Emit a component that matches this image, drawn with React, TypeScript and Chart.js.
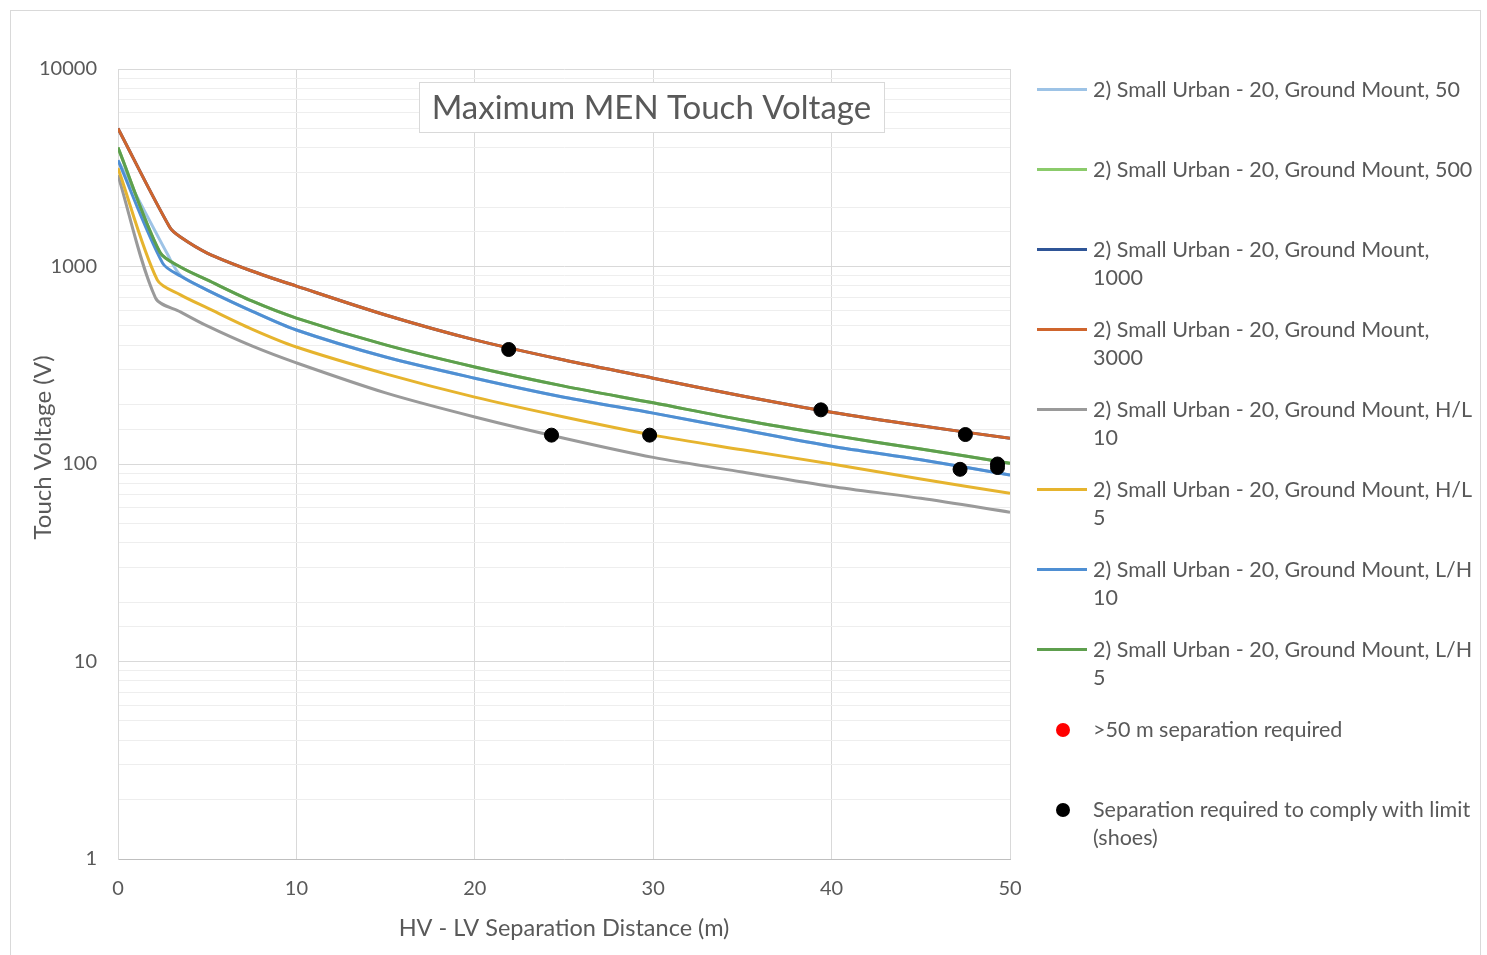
import React, { useEffect, useRef } from "react";
import { Chart, registerables } from "chart.js";

Chart.register(...registerables);

// ---- data ----
const seriesLabels = [
  "2) Small Urban - 20, Ground Mount, 50",
  "2) Small Urban - 20, Ground Mount, 500",
  "2) Small Urban - 20, Ground Mount,\n1000",
  "2) Small Urban - 20, Ground Mount,\n3000",
  "2) Small Urban - 20, Ground Mount, H/L\n10",
  "2) Small Urban - 20, Ground Mount, H/L\n5",
  "2) Small Urban - 20, Ground Mount, L/H\n10",
  "2) Small Urban - 20, Ground Mount, L/H\n5",
];
const seriesColors = [
  "#9DC3E6",
  "#8BCB6B",
  "#2F5597",
  "#CF652D",
  "#9A9A9A",
  "#E6B42E",
  "#4F8FD3",
  "#5E9F4E",
];

const xs50 = [0, 2.8, 3.5, 5, 7.5, 10, 15, 20, 25, 30, 35, 40, 45, 50];
const v50 = [3450, 1143, 905, 760, 595, 477, 348, 272, 218, 181, 149, 123, 105, 88];
const xs500 = [0, 2.35, 3.5, 5, 7.5, 10, 15, 20, 25, 30, 35, 40, 45, 50];
const v500 = [4000, 1180, 994, 855, 669, 548, 401, 310, 248, 204, 167, 140, 119, 101];
const xs1000 = [0, 2.9, 3.5, 5, 7.5, 10, 15, 20, 25, 30, 35, 40, 45, 50];
const v1000 = [5000, 1580, 1410, 1170, 949, 796, 568, 425, 336, 272, 221, 183, 156, 135];
const xs3000 = [0, 2.9, 3.5, 5, 7.5, 10, 15, 20, 25, 30, 35, 40, 45, 50];
const v3000 = [5000, 1580, 1410, 1170, 949, 796, 568, 425, 336, 272, 221, 183, 156, 135];
const xsHL10 = [0, 2.1, 3.5, 5, 7.5, 10, 15, 20, 25, 30, 35, 40, 45, 50];
const vHL10 = [2900, 693, 589, 500, 396, 325, 229, 173, 135, 108, 91, 77, 67, 57];
const xsHL5 = [0, 2.2, 3.5, 5, 7.5, 10, 15, 20, 25, 30, 35, 40, 45, 50];
const vHL5 = [3150, 855, 718, 617, 482, 391, 286, 218, 173, 140, 118, 100, 84, 71];
const xsLH10 = [0, 2.5, 3.5, 5, 7.5, 10, 15, 20, 25, 30, 35, 40, 45, 50];
const vLH10 = [3450, 1040, 895, 760, 595, 477, 348, 272, 218, 181, 149, 123, 105, 88];
const xsLH5 = [0, 2.35, 3.5, 5, 7.5, 10, 15, 20, 25, 30, 35, 40, 45, 50];
const vLH5 = [4000, 1180, 994, 855, 669, 548, 401, 310, 248, 204, 167, 140, 119, 101];

const seriesX = [xs50, xs500, xs1000, xs3000, xsHL10, xsHL5, xsLH10, xsLH5];
const seriesY = [v50, v500, v1000, v3000, vHL10, vHL5, vLH10, vLH5];

const redLabel = ">50 m separation required";
const redX: number[] = [];
const redY: number[] = [];
const blackLabel = "Separation required to comply with limit\n(shoes)";
const blackX = [21.9, 24.3, 29.8, 39.4, 47.5, 47.2, 49.3, 49.3];
const blackY = [380, 140, 140, 188, 141, 94, 100, 96];

const xTicks = [0, 10, 20, 30, 40, 50];
const yTickLabels = ["1", "10", "100", "1000", "10000"];

const chartTitle = "Maximum MEN Touch Voltage";
const xTitle = "HV - LV Separation Distance (m)";
const yTitle = "Touch Voltage (V)";

const FONT = "Lato, 'Open Sans', 'DejaVu Sans', sans-serif";
const TEXT = "#595959";

const zip = (xs: number[], ys: number[]) => xs.map((x, i) => ({ x, y: ys[i] }));

const isPow10 = (v: number) => {
  const l = Math.log10(v);
  return Math.abs(l - Math.round(l)) < 1e-9;
};

const titlePlugin = {
  id: "boxTitle",
  beforeDatasetsDraw(chart: any) {
    const { ctx, chartArea } = chart;
    const w = chartArea.right - chartArea.left;
    const h = chartArea.bottom - chartArea.top;
    const cx = chartArea.left + w * 0.598;
    const cy = chartArea.top + 38;
    ctx.save();
    ctx.font = `33px ${FONT}`;
    const tw = ctx.measureText(chartTitle).width;
    const bw = Math.max(tw + 22, 465);
    const bh = 50;
    ctx.fillStyle = "#ffffff";
    ctx.fillRect(cx - bw / 2, cy - bh / 2, bw, bh);
    ctx.strokeStyle = "#d9d9d9";
    ctx.lineWidth = 1;
    ctx.strokeRect(Math.round(cx - bw / 2) + 0.5, Math.round(cy - bh / 2) + 0.5, Math.round(bw), bh);
    ctx.fillStyle = TEXT;
    ctx.textAlign = "center";
    ctx.textBaseline = "middle";
    ctx.fillText(chartTitle, cx, cy + 1);

    // y axis title (rotated)
    ctx.font = `24px ${FONT}`;
    ctx.translate(chartArea.left - 75, chartArea.top + h * 0.479);
    ctx.rotate(-Math.PI / 2);
    ctx.fillText(yTitle, 0, 0);
    ctx.restore();
  },
};

export default function App() {
  const ref = useRef<HTMLCanvasElement | null>(null);

  useEffect(() => {
    if (!ref.current) return;
    const n = seriesLabels.length;
    const lineSets = seriesLabels.map((lab, i) => ({
      type: "line" as const,
      label: lab.replace("\n", " "),
      data: zip(seriesX[i], seriesY[i]),
      borderColor: seriesColors[i],
      backgroundColor: seriesColors[i],
      borderWidth: 3,
      pointRadius: 0,
      tension: 0.3,
      fill: false,
      order: n - i + 2,
    }));
    const chart = new Chart(ref.current, {
      type: "line",
      data: {
        datasets: [
          ...lineSets,
          {
            type: "scatter" as const,
            label: redLabel,
            data: zip(redX, redY),
            backgroundColor: "#FF0000",
            borderColor: "#FF0000",
            pointRadius: 7,
            showLine: false,
            order: 1,
          } as any,
          {
            type: "scatter" as const,
            label: blackLabel.replace("\n", " "),
            data: zip(blackX, blackY),
            backgroundColor: "#000000",
            borderColor: "#000000",
            pointRadius: 7,
            showLine: false,
            order: 0,
          } as any,
        ],
      },
      options: {
        animation: false,
        responsive: false,
        maintainAspectRatio: false,
        layout: { padding: { left: 31, right: 477, top: 69, bottom: 0 } },
        plugins: {
          legend: { display: false },
          tooltip: { enabled: false },
          title: { display: false },
        },
        scales: {
          x: {
            type: "linear",
            min: 0,
            max: 50,
            afterBuildTicks: (s: any) => {
              s.ticks = xTicks.map((v) => ({ value: v }));
            },
            ticks: {
              padding: 18,
              color: TEXT,
              font: { family: FONT, size: 20 },
              maxRotation: 0,
            },
            grid: { color: "#d9d9d9", drawTicks: false, lineWidth: 1 },
            border: { display: true, color: "#bfbfbf" },
            title: {
              display: true,
              text: xTitle,
              color: TEXT,
              font: { family: FONT, size: 23.5 },
              padding: { top: 0, bottom: 12 },
            },
            afterFit: (s: any) => {
              s.height = 96;
            },
          },
          y: {
            type: "logarithmic",
            min: 1,
            max: 10000,
            ticks: {
              autoSkip: false,
              padding: 21,
              color: TEXT,
              font: { family: FONT, size: 20 },
              callback: (v: any) => {
                const num = Number(v);
                if (!isPow10(num)) return "";
                const s = String(Math.round(num));
                return yTickLabels.includes(s) ? s : "";
              },
            },
            grid: {
              drawTicks: false,
              lineWidth: 1,
              color: (c: any) => (c.tick && isPow10(c.tick.value) ? "#d9d9d9" : "#eeeeee"),
            },
            border: { display: true, color: "#d9d9d9" },
            title: { display: false },
            afterFit: (s: any) => {
              s.width = 87;
            },
          },
        },
      } as any,
      plugins: [titlePlugin],
    });
    return () => chart.destroy();
  }, []);

  const legendItems = [
    ...seriesLabels.map((l, i) => ({ label: l, color: seriesColors[i], kind: "line" })),
    { label: redLabel, color: "#FF0000", kind: "dot" },
    { label: blackLabel, color: "#000000", kind: "dot" },
  ];

  return (
    <div
      style={{
        position: "fixed",
        left: 0,
        top: 0,
        width: 1487,
        height: 955,
        background: "#ffffff",
        overflow: "hidden",
      }}
    >
      <div
        style={{
          position: "absolute",
          left: 10,
          top: 10,
          width: 1471,
          height: 980,
          border: "1px solid #d9d9d9",
          boxSizing: "border-box",
        }}
      />
      <canvas ref={ref} width={1487} height={955} style={{ position: "absolute", left: 0, top: 0 }} />
      {legendItems.map((it, i) => (
        <div
          key={i}
          style={{
            position: "absolute",
            left: 1037,
            top: 89 + i * 80 - 14,
            display: "flex",
            alignItems: "flex-start",
            fontFamily: FONT,
            fontSize: 21.5,
            lineHeight: "28px",
            color: TEXT,
            whiteSpace: "pre",
          }}
        >
          <div style={{ width: 56, height: 28, position: "relative", flex: "none" }}>
            {it.kind === "line" ? (
              <div
                style={{
                  position: "absolute",
                  left: 0,
                  top: 13,
                  width: 50,
                  height: 3,
                  background: it.color,
                }}
              />
            ) : (
              <div
                style={{
                  position: "absolute",
                  left: 19,
                  top: 8,
                  width: 14,
                  height: 14,
                  borderRadius: 7,
                  background: it.color,
                }}
              />
            )}
          </div>
          <div>{it.label}</div>
        </div>
      ))}
    </div>
  );
}
